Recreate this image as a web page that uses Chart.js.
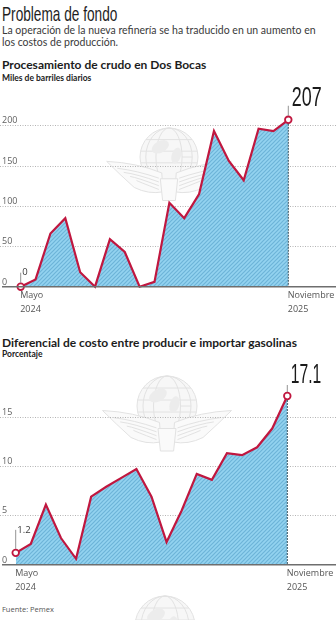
<!DOCTYPE html>
<html lang="es">
<head>
<meta charset="utf-8">
<script src="https://cdn.jsdelivr.net/npm/chart.js@4.4.1/dist/chart.umd.min.js"></script>
<style>
  body { margin: 0; width: 336px; height: 620px; background: #fff; position: relative; overflow: hidden; color: #222; }
  .t { position: absolute; left: 2px; white-space: nowrap; line-height: 1; }
  #titulo { top: 3px; font-family: "Liberation Sans", sans-serif; font-size: 21px; line-height: 21px; transform: scaleX(0.65); transform-origin: 0 0; color: #1e1e1e; }
  #bajada { top: 23.5px; font-family: Lato, sans-serif; font-size: 10.5px; line-height: 12px; color: #3a3a3a; }
  .h { font-family: Lato, sans-serif; font-weight: 700; font-size: 12px; color: #1c1c1c; }
  .s { font-family: Lato, sans-serif; font-weight: 700; font-size: 8.5px; color: #222; }
  #fuente { top: 606px; font-family: "Open Sans", sans-serif; font-size: 7.5px; color: #555; }
  canvas { position: absolute; left: 0; }
  #c1 { top: 80px; }
  #c2 { top: 360px; }
</style>
</head>
<body>
<div class="t" id="titulo">Problema de fondo</div>
<div class="t" id="bajada">La operación de la nueva refinería se ha traducido en un aumento en<br>los costos de producción.</div>
<div class="t h" style="top:59px">Procesamiento de crudo en Dos Bocas</div>
<div class="t s" style="top:74px">Miles de barriles diarios</div>
<div class="t h" style="top:337px">Diferencial de costo entre producir e importar gasolinas</div>
<div class="t s" style="top:350px">Porcentaje</div>
<div class="t" id="fuente">Fuente: Pemex</div>
<canvas id="c1" width="336" height="240"></canvas>
<canvas id="c2" width="336" height="260"></canvas>
<script>
// meses de mayo 2024 a noviembre 2025
const meses = ['May 2024', 'Jun 2024', 'Jul 2024', 'Ago 2024', 'Sep 2024', 'Oct 2024', 'Nov 2024', 'Dic 2024',
  'Ene 2025', 'Feb 2025', 'Mar 2025', 'Abr 2025', 'May 2025', 'Jun 2025', 'Jul 2025', 'Ago 2025',
  'Sep 2025', 'Oct 2025', 'Nov 2025'];
// miles de barriles diarios
const crudo = [0, 9, 66, 85, 18, 0, 59, 43, 0, 6, 104, 85, 115, 193, 156, 132, 196, 193, 207];
// porcentaje
const diferencial = [1.2, 2.1, 6.1, 2.7, 0.6, 6.9, 7.9, 8.8, 9.7, 6.9, 2.3, 5.5, 9.2, 8.6, 11.3, 11.1, 11.9, 13.8, 17.1];
const ticksCrudo = [0, 50, 100, 150, 200];
const ticksDiferencial = [0, 5, 10, 15];
const etiquetaInicio = ['Mayo', '2024'];
const etiquetaFin = ['Noviembre', '2025'];

const ROJO = '#c0173f';

function rayado() {
  const c = document.createElement('canvas');
  c.width = c.height = 4;
  const g = c.getContext('2d');
  g.fillStyle = '#93d3f0';
  g.fillRect(0, 0, 4, 4);
  g.strokeStyle = '#6db4d8';
  g.lineWidth = 1.2;
  g.beginPath();
  g.moveTo(-1, 5); g.lineTo(5, -1);
  g.moveTo(-1, 1); g.lineTo(1, -1);
  g.moveTo(3, 5); g.lineTo(5, 3);
  g.stroke();
  return g.createPattern(c, 'repeat');
}

// logotipo de fondo: globo con águila de alas abiertas
function emblema(ctx, cx, cy, r) {
  ctx.save();
  ctx.strokeStyle = '#e2e2e2';
  ctx.fillStyle = '#f7f7f7';
  ctx.lineWidth = 1;
  // globo
  ctx.beginPath();
  ctx.arc(cx, cy, r, 0, Math.PI * 2);
  ctx.fill();
  ctx.stroke();
  ctx.beginPath();
  ctx.ellipse(cx, cy, r * 0.45, r, 0, 0, Math.PI * 2);
  ctx.ellipse(cx, cy, r * 0.8, r, 0, 0, Math.PI * 2);
  for (const f of [-0.6, -0.2, 0.2]) {
    const w = Math.sqrt(1 - f * f) * r;
    ctx.moveTo(cx - w, cy + f * r); ctx.lineTo(cx + w, cy + f * r);
  }
  ctx.stroke();
  ctx.fillStyle = '#ececec';
  ctx.beginPath();
  ctx.ellipse(cx - r * 0.3, cy - r * 0.35, r * 0.32, r * 0.2, -0.5, 0, Math.PI * 2);
  ctx.fill();
  ctx.beginPath();
  ctx.ellipse(cx + r * 0.25, cy - r * 0.05, r * 0.16, r * 0.28, 0.3, 0, Math.PI * 2);
  ctx.fill();
  // alas
  ctx.fillStyle = '#fafafa';
  for (const s of [-1, 1]) {
    ctx.beginPath();
    ctx.moveTo(cx + s * r * 0.25, cy + r * 0.55);
    ctx.quadraticCurveTo(cx + s * r * 1.1, cy + r * 0.2, cx + s * r * 2.15, cy + r * 0.15);
    ctx.quadraticCurveTo(cx + s * r * 1.7, cy + r * 0.6, cx + s * r * 1.2, cy + r * 1.05);
    ctx.quadraticCurveTo(cx + s * r * 0.7, cy + r * 1.3, cx + s * r * 0.2, cy + r * 1.2);
    ctx.closePath();
    ctx.fill();
    ctx.stroke();
    for (let k = 1; k <= 4; k++) {
      ctx.beginPath();
      ctx.moveTo(cx + s * r * 0.35, cy + r * (0.6 + k * 0.13));
      ctx.quadraticCurveTo(cx + s * r * 1.1, cy + r * (0.35 + k * 0.12), cx + s * r * (2.0 - k * 0.22), cy + r * (0.25 + k * 0.14));
      ctx.stroke();
    }
  }
  // cuerpo y cola
  ctx.beginPath();
  ctx.moveTo(cx - r * 0.3, cy + r * 0.75);
  ctx.lineTo(cx + r * 0.3, cy + r * 0.75);
  ctx.lineTo(cx + r * 0.22, cy + r * 1.5);
  ctx.lineTo(cx - r * 0.22, cy + r * 1.5);
  ctx.closePath();
  ctx.fill();
  ctx.stroke();
  ctx.restore();
}

function marco(cfg) {
  return {
    id: 'marco',
    beforeDatasetsDraw(chart) {
      const { ctx, width } = chart;
      const y = chart.scales.y;
      for (const e of cfg.emblemas) emblema(ctx, e[0], e[1], e[2]);
      ctx.save();
      ctx.strokeStyle = '#b4b4b4';
      ctx.lineWidth = 1;
      ctx.setLineDash([1, 1.5]);
      ctx.font = '9px "Open Sans"';
      ctx.fillStyle = '#5f5f5f';
      ctx.textBaseline = 'alphabetic';
      for (const v of cfg.ticks) {
        const py = Math.round(y.getPixelForValue(v)) + 0.5;
        if (v !== 0) {
          ctx.beginPath();
          ctx.moveTo(0, py); ctx.lineTo(width, py);
          ctx.stroke();
        }
        ctx.fillText(String(v), 2, py - 2.5);
      }
      ctx.restore();
    },
    afterDatasetsDraw(chart) {
      const { ctx, width } = chart;
      const x = chart.scales.x, y = chart.scales.y;
      const datos = chart.data.datasets[0].data;
      const n = datos.length;
      const y0 = y.getPixelForValue(0);
      const x0 = x.getPixelForValue(0), xn = x.getPixelForValue(n - 1);
      const p0 = y.getPixelForValue(datos[0]), pn = y.getPixelForValue(datos[n - 1]);
      ctx.save();
      // borde derecho del área
      ctx.strokeStyle = '#2d4b5a';
      ctx.lineWidth = 1;
      ctx.setLineDash([2, 1]);
      ctx.beginPath();
      ctx.moveTo(xn, pn + 4); ctx.lineTo(xn, y0);
      ctx.stroke();
      ctx.setLineDash([]);
      // línea base
      ctx.strokeStyle = '#6e6e6e';
      ctx.lineWidth = 1.6;
      ctx.beginPath();
      ctx.moveTo(2, y0); ctx.lineTo(width, y0);
      ctx.stroke();
      // guías de las etiquetas
      ctx.strokeStyle = '#777';
      ctx.lineWidth = 0.8;
      ctx.beginPath();
      ctx.moveTo(x0, p0 - 4); ctx.lineTo(x0, p0 - cfg.ini.linea);
      ctx.moveTo(xn, pn - 4); ctx.lineTo(xn, pn - cfg.fin.linea);
      ctx.stroke();
      ctx.fillStyle = '#3a3a3a';
      ctx.font = '9.5px "Open Sans"';
      ctx.fillText(String(datos[0]), x0 + 1.5, p0 - cfg.ini.texto);
      ctx.fillStyle = '#1a1a1a';
      ctx.font = '28px "Liberation Sans"';
      ctx.save();
      ctx.translate(xn + 3.5, pn - cfg.fin.texto);
      ctx.scale(cfg.fin.escala, 1);
      ctx.fillText(String(datos[n - 1]), 0, 0);
      ctx.restore();
      // etiquetas del eje x
      ctx.fillStyle = '#555';
      ctx.font = '9px "Open Sans"';
      etiquetaInicio.forEach((t, i) => ctx.fillText(t, x0 - 0.5, y0 + 11.5 + i * 13.5));
      etiquetaFin.forEach((t, i) => ctx.fillText(t, xn - 0.5, y0 + 11.5 + i * 13.5));
      ctx.restore();
    }
  };
}

function grafica(id, datos, yMax, padding, cfg) {
  const n = datos.length;
  const extremo = c => (c.dataIndex === 0 || c.dataIndex === n - 1) ? 3.3 : 0;
  return new Chart(document.getElementById(id), {
    type: 'line',
    data: {
      labels: meses,
      datasets: [{
        data: datos,
        borderColor: ROJO,
        borderWidth: 2.2,
        borderJoinStyle: 'miter',
        backgroundColor: rayado(),
        fill: 'origin',
        tension: 0,
        pointRadius: extremo,
        pointHoverRadius: extremo,
        pointBackgroundColor: '#fff',
        pointBorderColor: ROJO,
        pointBorderWidth: 1.8,
        clip: false
      }]
    },
    options: {
      responsive: false,
      animation: false,
      devicePixelRatio: 1,
      layout: { padding: padding },
      plugins: { legend: { display: false }, tooltip: { enabled: false } },
      scales: {
        x: { type: 'category', display: false, offset: false },
        y: { display: false, min: 0, max: yMax }
      }
    },
    plugins: [marco(cfg)]
  });
}

grafica('c1', crudo, 250, { left: 20.7, right: 47.7, top: 3.4, bottom: 33.3 }, {
  ticks: ticksCrudo,
  emblemas: [[169, 77, 29]],
  ini: { linea: 14, texto: 11.5 },
  fin: { linea: 14, texto: 14, escala: 0.64 }
});

grafica('c2', diferencial, 20, { left: 15.7, right: 48.7, top: 7.4, bottom: 55.3 }, {
  ticks: ticksDiferencial,
  emblemas: [[167, 46, 30], [165, 266, 30]],
  ini: { linea: 23, texto: 20 },
  fin: { linea: 11, texto: 13, escala: 0.56 }
});
</script>
</body>
</html>
